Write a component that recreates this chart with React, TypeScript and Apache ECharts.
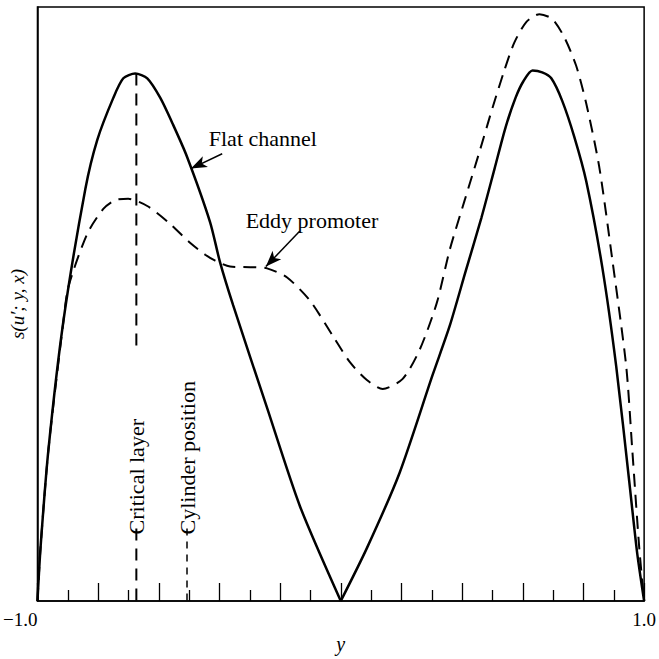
import React, { useEffect, useRef } from "react";
import * as echarts from "echarts";

// Flat channel (solid) curve: y position and s value
const flatX = [-1.0, -0.99, -0.964, -0.914, -0.842, -0.803, -0.75, -0.717, -0.678, -0.638, -0.595, -0.553, -0.507, -0.431, -0.398, -0.355, -0.243, -0.135, 0.0,
  0.086, 0.194, 0.303, 0.359, 0.411, 0.464, 0.507, 0.543, 0.576, 0.602, 0.632, 0.664, 0.694, 0.73, 0.77, 0.809, 0.862, 0.908, 0.951, 0.977, 1.0];
const flatS = [0.0, 0.089, 0.254, 0.473, 0.694, 0.776, 0.847, 0.88, 0.888, 0.88, 0.847, 0.802, 0.748, 0.638, 0.57, 0.498, 0.325, 0.16, 0.0,
  0.089, 0.216, 0.381, 0.463, 0.554, 0.646, 0.728, 0.797, 0.847, 0.875, 0.893, 0.89, 0.88, 0.842, 0.781, 0.707, 0.562, 0.395, 0.201, 0.081, 0.0];

// Eddy promoter (dashed) curve
const eddyX = [-1.0, -0.99, -0.964, -0.914, -0.898, -0.836, -0.783, -0.743, -0.701, -0.638, -0.563, -0.497, -0.447, -0.414, -0.365, -0.299, -0.243, -0.178, -0.102, -0.026,
  0.03, 0.086, 0.138, 0.204, 0.26, 0.316, 0.359, 0.408, 0.457, 0.5, 0.539, 0.572, 0.612, 0.655, 0.697, 0.737, 0.776, 0.809, 0.852, 0.895, 0.941, 0.961, 0.984, 1.0];
const eddyS = [0.0, 0.089, 0.254, 0.473, 0.529, 0.618, 0.66, 0.675, 0.677, 0.665, 0.635, 0.603, 0.583, 0.573, 0.563, 0.562, 0.56, 0.545, 0.506, 0.446,
  0.402, 0.372, 0.357, 0.374, 0.423, 0.501, 0.591, 0.674, 0.756, 0.83, 0.893, 0.94, 0.975, 0.988, 0.98, 0.949, 0.901, 0.838, 0.731, 0.575, 0.395, 0.254, 0.089, 0.0];

// marker lines
const criticalX = -0.674;
const criticalUpper = [0.888, 0.427];
const cylinderX = -0.507;
const markerLower = [0.122, 0.0];
const markerTextStart = 0.112;

// x tick labels shown
const xTickValues = [-1, 1];
const xTickLabels = ["\u22121.0", "1.0"];

// annotation texts and arrows: [text, textX, textS, arrowFromX, arrowFromS, arrowToX, arrowToS]
const annFlat = ["Flat channel", -0.257, 0.778, -0.391, 0.753, -0.494, 0.728] as const;
const annEddy = ["Eddy promoter", -0.095, 0.64, -0.135, 0.623, -0.247, 0.563] as const;

const FONT = "'Liberation Serif', 'DejaVu Serif', serif";

export default function App() {
  const ref = useRef<HTMLDivElement>(null);
  useEffect(() => {
    if (!ref.current) return;
    const chart = echarts.init(ref.current, null, { renderer: "svg" });
    const zeroIdx = flatX.indexOf(0);
    const flatPts = flatX.map((x, i) => [x, flatS[i]]);
    const flatLeft = flatPts.slice(0, zeroIdx + 1);
    const flatRight = flatPts.slice(zeroIdx);
    const eddyPts = eddyX.map((x, i) => [x, eddyS[i]]);
    const solid = { color: "#000", width: 2.5 };
    const dashed = { color: "#000", width: 2, type: [13, 8] as number[] };
    const base = { type: "line", showSymbol: false, symbol: "none", silent: true };
    const textStyle = { color: "#000", fontFamily: FONT, fontSize: 22 };
    const mkArrow = (a: readonly any[]) => [
      { coord: [a[3], a[4]], symbol: "none" },
      { coord: [a[5], a[6]], symbol: "arrow", symbolSize: [9, 16] },
    ];
    const mkText = (a: readonly any[]) => ({
      coord: [a[1], a[2]],
      symbol: "circle",
      symbolSize: 0,
      label: { show: true, position: "inside", formatter: a[0], ...textStyle },
    });
    const mkVText = (x: number, t: string) => ({
      coord: [x, markerTextStart],
      symbol: "circle",
      symbolSize: 0,
      label: {
        show: true,
        position: "inside",
        formatter: t,
        rotate: 90,
        align: "left",
        verticalAlign: "middle",
        ...textStyle,
      },
    });
    chart.setOption({
      animation: false,
      backgroundColor: "#fff",
      grid: {
        left: 37,
        right: 14,
        top: 7,
        bottom: 45,
        show: true,
        borderColor: "#000",
        borderWidth: 1.5,
        backgroundColor: "transparent",
      },
      xAxis: {
        type: "value",
        min: -1,
        max: 1,
        interval: 0.2,
        name: "y",
        nameLocation: "middle",
        nameGap: 33,
        nameTextStyle: { color: "#000", fontFamily: FONT, fontSize: 20, fontStyle: "italic" },
        axisLine: { show: true, onZero: false, lineStyle: { color: "#000", width: 1.5 } },
        axisTick: { show: true, inside: true, length: 18, lineStyle: { color: "#000", width: 1.3 } },
        minorTick: { show: true, splitNumber: 2, length: 11, lineStyle: { color: "#000", width: 1.3 } },
        splitLine: { show: false },
        axisLabel: {
          color: "#000",
          fontFamily: FONT,
          fontSize: 19,
          margin: 9,
          alignMinLabel: "right",
          alignMaxLabel: "center",
          formatter: (v: number) => {
            const i = xTickValues.findIndex((t) => Math.abs(t - v) < 1e-9);
            return i >= 0 ? xTickLabels[i] : "";
          },
        },
      },
      yAxis: {
        type: "value",
        min: 0,
        max: 1,
        name: "s(u\u2032; y, x)",
        nameLocation: "middle",
        nameRotate: 90,
        nameGap: 10,
        nameTextStyle: { color: "#000", fontFamily: FONT, fontSize: 19, fontStyle: "italic" },
        axisLine: { show: true, onZero: false, lineStyle: { color: "#000", width: 1.5 } },
        axisTick: { show: false },
        axisLabel: { show: false },
        splitLine: { show: false },
      },
      series: [
        { ...base, name: "Flat channel", data: flatLeft, smooth: 0.25, lineStyle: solid, z: 4 },
        { ...base, name: "Flat channel R", data: flatRight, smooth: 0.25, lineStyle: solid, z: 4 },
        { ...base, name: "Eddy promoter", data: eddyPts, smooth: 0.25, lineStyle: dashed, z: 3 },
        {
          ...base,
          name: "Critical layer",
          data: criticalUpper.map((s) => [criticalX, s]),
          lineStyle: { color: "#000", width: 2, type: [12, 8] },
        },
        {
          ...base,
          name: "Critical layer lower",
          data: markerLower.map((s) => [criticalX, s]),
          lineStyle: { color: "#000", width: 2, type: [12, 8] },
        },
        {
          ...base,
          name: "Cylinder position",
          data: markerLower.map((s) => [cylinderX, s]),
          lineStyle: { color: "#000", width: 1.5, type: [7, 6] },
        },
        {
          ...base,
          name: "annotations",
          data: [],
          markLine: {
            silent: true,
            animation: false,
            lineStyle: { color: "#000", width: 1.5, type: "solid" },
            label: { show: false },
            data: [mkArrow(annFlat), mkArrow(annEddy)],
          },
          markPoint: {
            silent: true,
            animation: false,
            data: [mkText(annFlat), mkText(annEddy), mkVText(criticalX, "Critical layer"), mkVText(cylinderX, "Cylinder position")],
          },
        },
      ],
    });
    return () => chart.dispose();
  }, []);
  return (
    <div
      ref={ref}
      style={{ position: "fixed", left: 0, top: 0, width: 659, height: 659, background: "#fff" }}
    />
  );
}
